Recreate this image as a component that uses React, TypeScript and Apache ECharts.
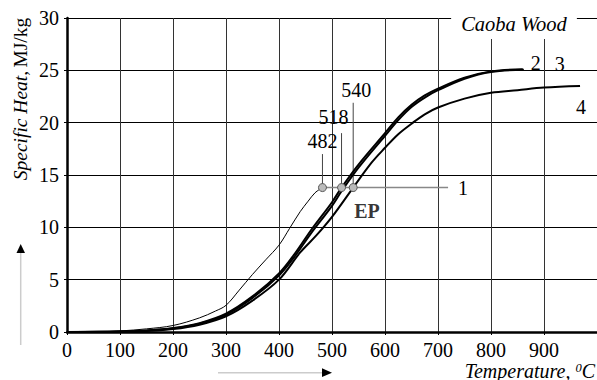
import React, { useEffect, useRef } from "react";
import * as echarts from "echarts";

const FONT = "'Liberation Serif', 'Times New Roman', serif";

// Curve 1 (thin) – ends at point 482
const curve1X = [50, 100, 150, 200, 250, 280, 300, 325, 350, 375, 400, 420, 440, 455, 468, 482];
const curve1Y = [0, 0.1, 0.3, 0.62, 1.35, 2.0, 2.55, 4.0, 5.5, 6.9, 8.3, 9.9, 11.5, 12.5, 13.3, 13.8];

// Curve 2
const curve2X = [0, 100, 150, 200, 250, 300, 350, 400, 430, 460, 500, 518, 550, 600, 625, 650, 675, 700, 750, 800, 860];
const curve2Y = [0, 0.05, 0.15, 0.38, 0.85, 1.75, 3.4, 5.6, 7.5, 9.7, 12.4, 13.8, 16.0, 19.0, 20.5, 21.7, 22.6, 23.25, 24.3, 24.9, 25.1];

// Curve 3
const curve3X = [0, 100, 150, 200, 250, 300, 350, 400, 430, 460, 500, 518, 550, 600, 625, 650, 675, 700, 750, 800, 862];
const curve3Y = [0, 0.04, 0.13, 0.34, 0.8, 1.65, 3.25, 5.4, 7.25, 9.4, 12.05, 13.45, 15.7, 18.75, 20.25, 21.5, 22.4, 23.1, 24.2, 24.85, 25.05];

// Curve 4
const curve4X = [0, 100, 150, 200, 250, 300, 350, 400, 440, 470, 500, 540, 575, 600, 625, 650, 675, 700, 750, 800, 850, 900, 968];
const curve4Y = [0, 0.03, 0.1, 0.28, 0.7, 1.5, 3.0, 5.0, 7.6, 9.2, 11.0, 13.8, 16.2, 17.6, 18.9, 19.9, 20.8, 21.45, 22.3, 22.85, 23.1, 23.35, 23.5];

// Characteristic points
const pointX = [482, 518, 540];
const pointLevel = 13.8;
const leaderTop = [17.0, 19.0, 21.9];
const leaderLabels = ["482", "518", "540"];
const line1End = 719;
const epPos = [566, 11.6];

const xTicks = { min: 0, max: 1000, interval: 100 };
const yTicks = { min: 0, max: 30, interval: 5 };

const zip = (xs: number[], ys: number[]) => xs.map((x, i) => [x, ys[i]]);

export default function App() {
  const ref = useRef<HTMLDivElement>(null);
  useEffect(() => {
    if (!ref.current) return;
    const chart = echarts.init(ref.current, undefined, { renderer: "svg" });
    const labelFont = { fontFamily: FONT, fontSize: 20, color: "#000" };
    const leaderOffsets = [[0, 0], [-8, -3], [3, 0]];
    const leaderSeries = pointX.map((x, i) => ({
      type: "line",
      data: [
        { value: [x, pointLevel] },
        {
          value: [x, leaderTop[i]],
          label: {
            show: true,
            formatter: leaderLabels[i],
            position: "top",
            distance: 3,
            offset: leaderOffsets[i],
            ...labelFont,
          },
        },
      ],
      symbol: "circle",
      symbolSize: 0,
      showSymbol: true,
      itemStyle: { color: "#444" },
      lineStyle: { color: "#444", width: 1 },
      z: 3,
    }));
    const curveCommon = { showSymbol: false, smooth: 0.35, z: 4 };
    const option: any = {
      animation: false,
      grid: { left: 67, top: 18, right: 0, bottom: 48, outerBoundsMode: "none" },
      xAxis: {
        type: "value",
        ...xTicks,
        axisLine: { show: true, onZero: false, lineStyle: { color: "#000", width: 2.5 } },
        axisTick: { show: true, length: 3, lineStyle: { color: "#000" } },
        axisLabel: { ...labelFont, margin: 8, showMaxLabel: false },
        splitLine: { show: true, lineStyle: { color: "#333", width: 1 } },
      },
      yAxis: {
        type: "value",
        ...yTicks,
        axisLine: { show: true, onZero: false, lineStyle: { color: "#000", width: 2.5 } },
        axisTick: { show: true, length: 3, lineStyle: { color: "#000" } },
        axisLabel: { ...labelFont, margin: 8 },
        splitLine: { show: true, lineStyle: { color: "#000", width: 1 } },
      },
      series: [
        {
          type: "line",
          data: zip(curve1X, curve1Y),
          ...curveCommon,
          lineStyle: { color: "#000", width: 1 },
        },
        {
          type: "line",
          data: zip(curve2X, curve2Y),
          ...curveCommon,
          lineStyle: { color: "#000", width: 2 },
          endLabel: { show: true, formatter: "2", offset: [0, -6], ...labelFont },
        },
        {
          type: "line",
          data: zip(curve3X, curve3Y),
          ...curveCommon,
          lineStyle: { color: "#000", width: 2 },
          endLabel: { show: true, formatter: "3", offset: [23, -6], ...labelFont },
        },
        {
          type: "line",
          data: zip(curve4X, curve4Y),
          ...curveCommon,
          lineStyle: { color: "#000", width: 2 },
          endLabel: { show: true, formatter: "4", offset: [-12, 21], ...labelFont },
        },
        {
          type: "line",
          data: [[pointX[0], pointLevel], [line1End, pointLevel]],
          showSymbol: false,
          lineStyle: { color: "#888", width: 1.5 },
          z: 3,
          endLabel: { show: true, formatter: "1", distance: 10, ...labelFont },
        },
        ...leaderSeries,
        {
          type: "scatter",
          data: pointX.map((x) => [x, pointLevel]),
          symbolSize: 8,
          itemStyle: { color: "#bbb", borderColor: "#555", borderWidth: 1, opacity: 1 },
          z: 6,
        },
        {
          type: "scatter",
          data: [epPos],
          symbolSize: 0,
          itemStyle: { color: "#000" },
          label: {
            show: true,
            position: "inside",
            formatter: "EP",
            fontFamily: FONT,
            fontSize: 20,
            fontWeight: "bold",
            color: "#000",
            textBorderWidth: 0,
          },
          z: 6,
        },
      ],
      graphic: [
        {
          type: "text",
          x: 514,
          y: 24,
          z: 100,
          style: {
            text: "Caoba Wood",
            fontFamily: FONT,
            fontSize: 20.5,
            fontStyle: "italic",
            fill: "#000",
            align: "center",
            verticalAlign: "middle",
            backgroundColor: "#fff",
            padding: [8, 10, 2, 10],
          },
        },
        {
          type: "text",
          x: 20,
          y: 99,
          rotation: Math.PI / 2,
          z: 100,
          style: {
            text: "{i|Specific Heat,} {n|MJ/kg}",
            align: "center",
            verticalAlign: "middle",
            fill: "#000",
            rich: {
              i: { fontFamily: FONT, fontSize: 19.5, fontStyle: "italic", fill: "#000" },
              n: { fontFamily: FONT, fontSize: 19.5, fill: "#000" },
            },
          },
        },
        {
          type: "text",
          x: 595,
          y: 371,
          z: 100,
          style: {
            text: "{i|Temperature, }{s|0}{i|C}",
            align: "right",
            verticalAlign: "middle",
            fill: "#000",
            rich: {
              i: { fontFamily: FONT, fontSize: 20, fontStyle: "italic", fill: "#000" },
              s: { fontFamily: FONT, fontSize: 12.5, fontStyle: "italic", fill: "#000", verticalAlign: "top" },
            },
          },
        },
        {
          type: "line",
          shape: { x1: 20.7, y1: 345, x2: 20.7, y2: 252 },
          style: { stroke: "#ccc", lineWidth: 1.5 },
        },
        {
          type: "polygon",
          shape: { points: [[20.7, 244], [16.5, 253], [25, 253]] },
          style: { fill: "#000" },
        },
        {
          type: "line",
          shape: { x1: 218, y1: 372.7, x2: 324, y2: 372.7 },
          style: { stroke: "#ccc", lineWidth: 1.5 },
        },
        {
          type: "polygon",
          shape: { points: [[332, 372.7], [322, 368.3], [322, 377.1]] },
          style: { fill: "#000" },
        },
      ],
    };
    chart.setOption(option);
    return () => chart.dispose();
  }, []);
  return (
    <div
      ref={ref}
      style={{ position: "fixed", left: 0, top: 0, width: 597, height: 380, background: "#fff" }}
    />
  );
}
